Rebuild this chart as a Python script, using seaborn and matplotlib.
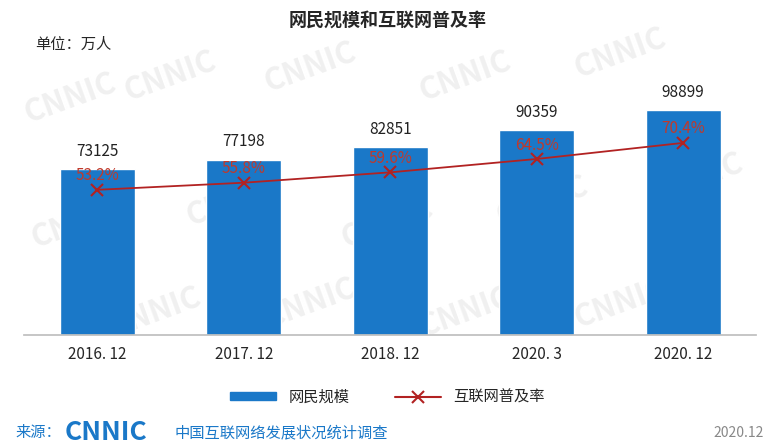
import numpy as np
import pandas as pd
import seaborn as sns
from matplotlib import pyplot as plt
from matplotlib.patches import Patch
from matplotlib.lines import Line2D

periods = ['2016. 12', '2017. 12', '2018. 12', '2020. 3', '2020. 12']
users = [73125, 77198, 82851, 90359, 98899]
rate = [53.2, 55.8, 59.6, 64.5, 70.4]

sns.set_theme(style='white')
plt.rcParams['font.family'] = ['Noto Sans CJK SC', 'DejaVu Sans']

fig = plt.figure(figsize=(7.75, 4.46), dpi=100)
ax = fig.add_axes([0.031, 0.249, 0.945, 0.616])
ax.patch.set_alpha(0)
df = pd.DataFrame({'period': periods, 'users': users})
sns.barplot(data=df, x='period', y='users', color='#1a78c8', saturation=1,
            width=0.51, ax=ax)
ax.set_ylim(0, 120900)
ax.set_xlim(-0.5, 4.5)
ax.set_xlabel('')
ax.set_ylabel('')
ax.set_yticks([])
for s in ['left', 'right', 'top']:
    ax.spines[s].set_visible(False)
ax.spines['bottom'].set_color('#bfbfbf')
ax.tick_params(axis='x', length=0, labelsize=11, pad=8)
for i, v in enumerate(users):
    ax.text(i, v + 4000, str(v), ha='center', va='bottom', fontsize=11, color='#222222')

ax2 = ax.twinx()
ax2.patch.set_alpha(0)
sns.lineplot(x=np.arange(len(rate)), y=rate, ax=ax2, color='#b22222', marker='x',
             markersize=8, markeredgewidth=1.5, markeredgecolor='#b22222',
             linewidth=1.3, legend=False)
ax2.set_ylim(0, 100.7)
ax2.set_yticks([])
for s in ax2.spines.values():
    s.set_visible(False)
for i, r in enumerate(rate):
    ax2.text(i, r + 2, f'{r}%', ha='center', va='bottom', fontsize=11, color='#c0392b')

# watermark behind everything
for xx, yy in [(0.09, 0.78), (0.22, 0.83), (0.4, 0.85), (0.6, 0.83), (0.8, 0.88),
               (0.1, 0.5), (0.3, 0.55), (0.5, 0.5), (0.7, 0.55), (0.9, 0.6),
               (0.2, 0.3), (0.4, 0.32), (0.6, 0.3), (0.8, 0.32)]:
    fig.text(xx, yy, 'CNNIC', fontsize=22, fontweight='bold', color='#f0f0f0',
             rotation=20, ha='center', va='center', zorder=-5)

fig.text(0.5, 0.955, '网民规模和互联网普及率', ha='center', va='center', fontsize=13, fontweight='bold')
fig.text(0.045, 0.9, '单位：万人', ha='left', va='center', fontsize=11)

handles = [Patch(color='#1a78c8'),
           Line2D([], [], color='#b22222', marker='x', markersize=8, markeredgewidth=1.5)]
fig.legend(handles, ['网民规模', '互联网普及率'], loc='center', bbox_to_anchor=(0.5, 0.11), ncol=2,
           frameon=False, fontsize=11, handlelength=3, handleheight=0.4, columnspacing=3)

fig.text(0.02, 0.03, '来源：', fontsize=11, color='#1a78c8', va='center')
fig.text(0.083, 0.03, 'CNNIC', fontsize=19, fontweight='bold', color='#1a78c8', va='center')
fig.text(0.225, 0.03, '中国互联网络发展状况统计调查', fontsize=11, color='#1a78c8', va='center')
fig.text(0.985, 0.03, '2020.12', fontsize=10, color='#888888', ha='right', va='center')

fig.savefig('out.png', dpi=100)
